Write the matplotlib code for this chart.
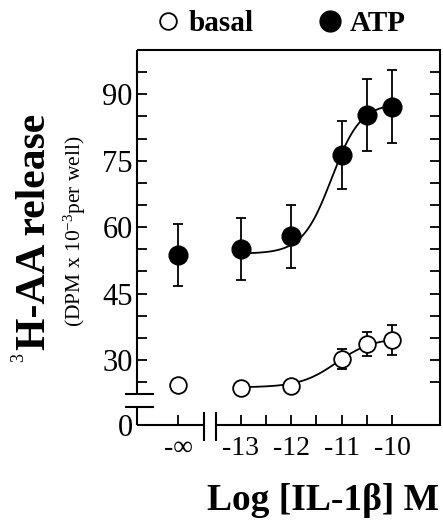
import numpy as np
import matplotlib
matplotlib.use('Agg')
import matplotlib.pyplot as plt
import matplotlib.transforms as mtransforms
from matplotlib.lines import Line2D

plt.rcParams['font.family'] = ['Liberation Serif', 'DejaVu Serif']
plt.rcParams['mathtext.fontset'] = 'custom'
plt.rcParams['mathtext.rm'] = 'Liberation Serif'
plt.rcParams['mathtext.it'] = 'Liberation Serif:italic'
plt.rcParams['mathtext.bf'] = 'Liberation Serif:bold'

# axis position used for the "no IL-1b" (-inf) point, left of the x break
NEG_INF = -14.25
# the y axis is broken: "0" is drawn at this position under the break
Y_ZERO = 15.3

x_ticks = [NEG_INF, -13, -12, -11, -10]
x_labels = ['-∞', '-13', '-12', '-11', '-10']
y_ticks = [Y_ZERO, 30, 45, 60, 75, 90]
y_labels = ['0', '30', '45', '60', '75', '90']

log_conc = [NEG_INF, -13, -12, -11, -10.5, -10]
atp_mean = [53.7, 55.1, 57.9, 76.3, 85.3, 87.2]
atp_err = [6.9, 7.0, 7.2, 7.7, 8.2, 8.3]
basal_mean = [24.4, 23.6, 24.2, 30.2, 33.6, 34.4]
basal_err = [0.8, 0.8, 0.8, 2.3, 2.7, 3.4]

# sigmoid fits drawn through the IL-1b points
atp_fit = dict(bottom=54.0, top=88.0, ec50=-11.2, hill=1.5)
basal_fit = dict(bottom=23.8, top=35.0, ec50=-11.1, hill=1.2)


def logistic(x, bottom, top, ec50, hill):
    return bottom + (top - bottom) / (1 + 10 ** ((ec50 - x) * hill))


fig = plt.figure(figsize=(4.43, 5.2), dpi=100)
ax = fig.add_axes([0.3093, 0.1827, 0.6839, 0.7211])

xs = np.linspace(-13, -10, 200)
ax.plot(xs, logistic(xs, **atp_fit), color='k', lw=1.3, zorder=2)
ax.plot(xs, logistic(xs, **basal_fit), color='k', lw=1.3, zorder=2)

ax.errorbar(log_conc, atp_mean, yerr=atp_err, fmt='o', color='k', ms=13.5,
            capsize=3.6, elinewidth=1.3, capthick=1.3, zorder=3)
ax.errorbar(log_conc, basal_mean, yerr=basal_err, fmt='o', color='k', mfc='white',
            mew=1.3, ms=12, capsize=3.6, elinewidth=1.3, capthick=1.3, zorder=3)

xlim = (-15.066, -9.046)
ylim = (Y_ZERO, 100)

# broken spines drawn by hand
for s in ['left', 'bottom', 'top']:
    ax.spines[s].set_visible(False)
ax.spines['right'].set_linewidth(1.5)
ty = mtransforms.blended_transform_factory(ax.transAxes, ax.transData)
tx = mtransforms.blended_transform_factory(ax.transData, ax.transAxes)
kw = dict(color='k', lw=1.5, clip_on=False, solid_capstyle='butt')
ax.plot([0, 1], [1, 1], transform=ax.transAxes, **kw)
ax.plot([0, 0], [ylim[0], 19.4], transform=ty, **kw)
ax.plot([0, 0], [22.3, ylim[1]], transform=ty, **kw)
ax.plot([-0.04, 0.056], [22.3, 22.3], transform=ty, **kw)
ax.plot([-0.04, 0.056], [19.4, 19.4], transform=ty, **kw)
ax.plot([xlim[0], -13.74], [0, 0], transform=tx, **kw)
ax.plot([-13.497, xlim[1]], [0, 0], transform=tx, **kw)
ax.plot([-13.74, -13.74], [-0.043, 0.035], transform=tx, **kw)
ax.plot([-13.497, -13.497], [-0.043, 0.035], transform=tx, **kw)

ax.set_xlim(*xlim)
ax.set_ylim(*ylim)
ax.set_xticks(x_ticks)
ax.set_xticklabels(x_labels)
ax.set_xticks([-12.5, -11.5, -10.5], minor=True)
ax.set_yticks(y_ticks)
ax.set_yticklabels(y_labels)
ax.set_yticks([25, 35, 40, 50, 55, 65, 70, 80, 85, 95], minor=True)
ax.tick_params(which='both', direction='in', length=7, width=1.3,
               right=True, top=False)
ax.tick_params(axis='y', labelsize=22, pad=3)
ax.tick_params(axis='x', labelsize=20, pad=8)

fig.text(0.08, 0.326, 'H-AA release', rotation=90, fontsize=30,
         fontweight='bold', ha='center', va='bottom')
fig.text(0.043, 0.312, '3', rotation=90, fontsize=13, ha='center', va='center')
fig.text(0.169, 0.556, r'(DPM x 10$^{-3}$per well)', rotation=90, fontsize=15.5,
         ha='center', va='center')
fig.text(0.73, 0.0192, 'Log [IL-1β] M', fontsize=27, fontweight='bold',
         ha='center', va='baseline')

handles = [Line2D([], [], marker='o', ls='none', mfc='white', mec='k', mew=1.3, ms=12),
           Line2D([], [], marker='o', ls='none', color='k', ms=15)]
ax.legend(handles, ['basal', 'ATP'], ncol=2, frameon=False, loc='center',
          bbox_to_anchor=(0.635, 0.954), bbox_transform=fig.transFigure,
          prop=dict(family='Liberation Serif', weight='bold', size=21),
          handlelength=0.8, handletextpad=0.3, columnspacing=2.2,
          borderpad=0, borderaxespad=0)

fig.savefig('out.png', dpi=100)
